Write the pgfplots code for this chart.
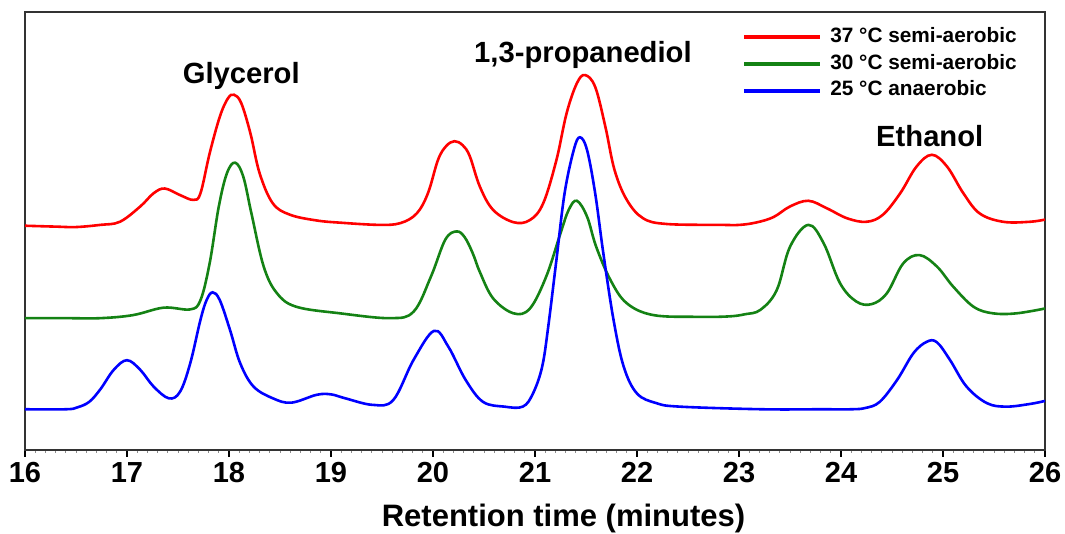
\documentclass[border=0pt]{standalone}
\usepackage{pgfplots}
\pgfplotsset{compat=1.18}
\usepackage{fontspec}
\setmainfont{Liberation Sans}
\definecolor{cred}{RGB}{255,0,0}
\definecolor{cgreen}{RGB}{20,130,20}
\definecolor{cblue}{RGB}{0,0,255}
\begin{document}
\begin{tikzpicture}
\useasboundingbox (-12.5pt,-42pt) rectangle (520pt,225pt);
\begin{axis}[
  scale only axis, width=510pt, height=219pt,
  xmin=16, xmax=26, ymin=0, ymax=100,
  xtick={16,17,...,26}, ytick=\empty,
  minor x tick num=9,
  tick align=outside, xtick pos=bottom,
  major tick length=3.5pt, minor tick length=1.5pt,
  every major tick/.style={black, line width=0.6pt},
  every minor tick/.style={black!45, line width=0.4pt},
  axis line style={line width=0.6pt, black!80},
  /pgf/number format/assume math mode=true,
  xticklabel style={font=\fontsize{14.5}{16}\selectfont\bfseries, yshift=0.8pt},
  xlabel={Retention time (minutes)},
  xlabel style={font=\fontsize{15.5}{18}\selectfont\bfseries, at={(axis description cs:0.528,0)}, anchor=base, yshift=-38.5pt},
  legend style={at={(0.697,1)}, anchor=north west, yshift=-4.5pt, draw=none, fill=none,
    font=\fontsize{10.4}{12}\selectfont\bfseries, row sep=2.05pt,
    nodes={inner sep=1pt, text height=7.4pt, text depth=2pt},
    /tikz/every odd column/.append style={column sep=3pt},
    cells={anchor=west}},
  legend image code/.code={\draw[#1, line width=2pt] (0pt,0pt) -- (38pt,0pt);},
  every axis plot/.append style={line width=1.3pt, smooth, tension=0.6, no marks},
]
\addplot[cred] coordinates {(16.0,51.2)(16.3,51.0)(16.5,50.9)(16.74,51.4)(16.93,52.1)(17.13,55.6)(17.26,58.6)(17.37,59.7)(17.52,58.2)(17.65,57.1)(17.72,58.6)(17.81,67.7)(17.91,76.1)(17.99,80.3)(18.05,81.1)(18.12,79.2)(18.21,72.3)(18.30,63.2)(18.43,56.3)(18.60,53.7)(18.86,52.4)(19.09,51.9)(19.47,51.4)(19.68,51.8)(19.84,54.0)(19.95,58.6)(20.05,66.3)(20.13,69.4)(20.21,70.5)(20.29,69.6)(20.36,67.1)(20.46,60.1)(20.59,54.8)(20.79,52.0)(20.95,52.5)(21.08,56.3)(21.21,66.2)(21.31,76.9)(21.41,83.7)(21.49,85.6)(21.59,82.9)(21.69,73.8)(21.78,63.9)(21.90,57.1)(22.06,52.9)(22.29,51.6)(22.81,51.4)(23.01,51.4)(23.18,52.0)(23.34,53.2)(23.50,55.6)(23.68,56.9)(23.86,55.2)(24.06,52.9)(24.25,52.1)(24.41,53.7)(24.58,58.6)(24.74,64.7)(24.89,67.4)(25.04,64.7)(25.20,58.6)(25.36,54.0)(25.59,52.1)(25.85,52.1)(26.0,52.6)};
\addlegendentry{37 °C semi-aerobic}
\addplot[cgreen] coordinates {(16.0,30.1)(16.4,30.1)(16.74,30.1)(17.06,30.8)(17.36,32.5)(17.62,32.1)(17.72,34.2)(17.81,42.6)(17.90,55.6)(17.98,63.2)(18.06,65.6)(18.14,62.4)(18.22,54.0)(18.34,41.9)(18.47,35.8)(18.66,32.7)(19.09,31.2)(19.58,30.1)(19.81,31.6)(19.98,39.6)(20.12,48.0)(20.23,49.9)(20.31,48.6)(20.39,44.9)(20.46,40.6)(20.59,34.6)(20.79,31.2)(20.95,32.3)(21.11,39.6)(21.25,49.5)(21.33,54.8)(21.41,56.9)(21.51,53.3)(21.60,46.4)(21.74,38.8)(21.90,33.5)(22.16,30.8)(22.6,30.4)(22.9,30.5)(23.06,31.0)(23.21,32.0)(23.37,36.5)(23.50,46.4)(23.68,51.4)(23.83,47.2)(23.99,38.1)(24.15,33.9)(24.30,33.3)(24.45,35.8)(24.61,42.6)(24.77,44.5)(24.94,41.9)(25.10,37.3)(25.30,32.7)(25.49,31.2)(25.72,31.2)(26.0,32.3)};
\addlegendentry{30 °C semi-aerobic}
\addplot[cblue] coordinates {(16.0,9.3)(16.4,9.3)(16.51,9.7)(16.63,11.0)(16.74,13.9)(16.87,18.3)(17.0,20.5)(17.13,18.3)(17.26,14.5)(17.41,11.8)(17.52,13.3)(17.62,19.8)(17.72,29.7)(17.78,34.2)(17.84,36.0)(17.91,34.2)(18.01,27.4)(18.11,19.8)(18.24,14.5)(18.43,11.8)(18.61,10.8)(18.86,12.6)(19.0,12.7)(19.14,11.8)(19.41,10.3)(19.61,11.4)(19.81,20.6)(20.01,27.2)(20.15,23.6)(20.32,16)(20.49,11)(20.7,9.9)(20.88,9.9)(20.98,12.9)(21.07,19.0)(21.13,28.2)(21.21,43.4)(21.29,58.6)(21.38,68.5)(21.44,71.4)(21.51,68.5)(21.59,58.6)(21.67,44.9)(21.77,29.7)(21.87,19.0)(22.0,12.9)(22.19,10.7)(22.42,9.9)(23.23,9.3)(23.8,9.3)(24.1,9.3)(24.24,9.6)(24.38,11.0)(24.55,16.0)(24.71,22.1)(24.84,24.7)(24.94,24.6)(25.07,20.5)(25.23,14.5)(25.43,10.7)(25.62,9.9)(25.85,10.5)(26.0,11.2)};
\addlegendentry{25 °C anaerobic}
\node[font=\fontsize{14.6}{17}\selectfont\bfseries, anchor=base] at (axis cs:18.12,83.6) {Glycerol};
\node[font=\fontsize{14.6}{17}\selectfont\bfseries, anchor=base] at (axis cs:21.47,88.5) {1,3-propanediol};
\node[font=\fontsize{14.6}{17}\selectfont\bfseries, anchor=base] at (axis cs:24.87,69.2) {Ethanol};
\end{axis}
\end{tikzpicture}
\end{document}
